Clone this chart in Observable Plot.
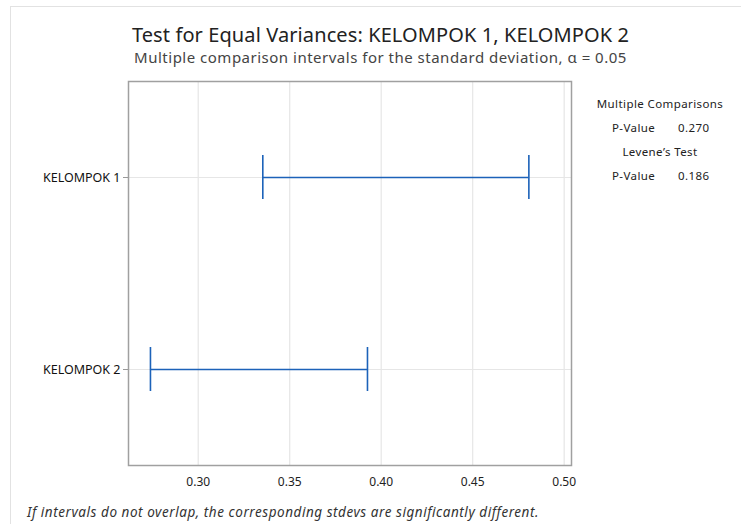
<!DOCTYPE html>
<html>
<head>
<meta charset="utf-8">
<script src="https://cdn.jsdelivr.net/npm/d3@7"></script>
<script src="https://cdn.jsdelivr.net/npm/@observablehq/plot@0.6"></script>
<style>
  html, body { margin: 0; padding: 0; background: #fff; }
  #wrap { position: relative; width: 741px; height: 531px; overflow: hidden; font-family: "Noto Sans", sans-serif; }
  #border { position: absolute; left: 10px; top: 6px; width: 740px; height: 517px; border-top: 1.5px solid #e2e2e2; border-left: 1.5px solid #e2e2e2; }
  .abs { position: absolute; white-space: nowrap; }
  #title { left: 0; width: 761px; text-align: center; top: 21px; font-size: 20px; color: #222; letter-spacing: 0.1px; }
  #subtitle { left: 0; width: 761px; text-align: center; top: 47px; font-size: 15px; color: #444; letter-spacing: 0.5px; }
  #footer { left: 27px; top: 503px; font-size: 13.5px; font-style: italic; color: #333; letter-spacing: 0.55px; }
  .side { font-size: 11.5px; color: #222; letter-spacing: 0.4px; }
  #plot { position: absolute; left: 0; top: 0; }
</style>
</head>
<body>
<div id="wrap">
  <div id="border"></div>
  <div id="plot"></div>
  <div id="title" class="abs"></div>
  <div id="subtitle" class="abs"></div>
  <div id="footer" class="abs"></div>
  <div id="side"></div>
</div>
<script>
const groups = ["KELOMPOK 1", "KELOMPOK 2"];
const lower = [0.3353, 0.2739];
const upper = [0.4807, 0.3925];
const xTicks = [0.30, 0.35, 0.40, 0.45, 0.50];
const titleText = "Test for Equal Variances: KELOMPOK 1, KELOMPOK 2";
const subtitleText = "Multiple comparison intervals for the standard deviation, \u03B1 = 0.05";
const footerText = "If intervals do not overlap, the corresponding stdevs are significantly different.";
const sideHeadings = ["Multiple Comparisons", "Levene\u2019s Test"];
const sideLabel = "P-Value";
const sidePValues = ["0.270", "0.186"];

const data = groups.map((g, i) => ({group: g, lo: lower[i], hi: upper[i]}));
const blue = "#1c62b9";

const chart = Plot.plot({
  width: 741,
  height: 531,
  marginLeft: 128,
  marginRight: 170,
  marginTop: 81,
  marginBottom: 66,
  style: {fontFamily: "Noto Sans, sans-serif", background: "transparent"},
  x: {domain: [0.2619, 0.504]},
  y: {domain: groups, paddingInner: 0.772, paddingOuter: 0.381, align: 0.5},
  marks: [
    Plot.gridX(xTicks, {stroke: "#e6e6e6", strokeOpacity: 1, strokeWidth: 1.2}),
    Plot.gridY({stroke: "#e6e6e6", strokeOpacity: 1, strokeWidth: 1.2}),
    Plot.ruleY(data, {y: "group", x1: "lo", x2: "hi", stroke: blue, strokeWidth: 1.6}),
    Plot.tickX(data, {x: "lo", y: "group", stroke: blue, strokeWidth: 1.6}),
    Plot.tickX(data, {x: "hi", y: "group", stroke: blue, strokeWidth: 1.6}),
    Plot.frame({stroke: "#a0a0a0", strokeWidth: 1.5}),
    Plot.axisX({ticks: xTicks, tickFormat: ".2f", tickSize: 0, tickPadding: 12, fontSize: 12, fill: "#222", label: null}),
    Plot.axisY({tickSize: 5, tickPadding: 3, fontSize: 12.5, fill: "#111", stroke: "#999", label: null, style: {letterSpacing: "-0.4px"}})
  ]
});
document.getElementById("plot").appendChild(chart);

document.getElementById("title").textContent = titleText;
document.getElementById("subtitle").textContent = subtitleText;
document.getElementById("footer").textContent = footerText;

const side = document.getElementById("side");
const rows = [
  {type: "h", text: sideHeadings[0], top: 96},
  {type: "v", label: sideLabel, value: sidePValues[0], top: 120},
  {type: "h", text: sideHeadings[1], top: 144},
  {type: "v", label: sideLabel, value: sidePValues[1], top: 168}
];
rows.forEach(r => {
  if (r.type === "h") {
    const d = document.createElement("div");
    d.className = "abs side";
    d.style.left = "580px"; d.style.width = "160px"; d.style.textAlign = "center";
    d.style.top = r.top + "px";
    d.textContent = r.text;
    side.appendChild(d);
  } else {
    const a = document.createElement("div");
    a.className = "abs side";
    a.style.left = "612px"; a.style.top = r.top + "px";
    a.textContent = r.label;
    side.appendChild(a);
    const b = document.createElement("div");
    b.className = "abs side";
    b.style.left = "678px"; b.style.top = r.top + "px";
    b.textContent = r.value;
    side.appendChild(b);
  }
});
</script>
</body>
</html>
